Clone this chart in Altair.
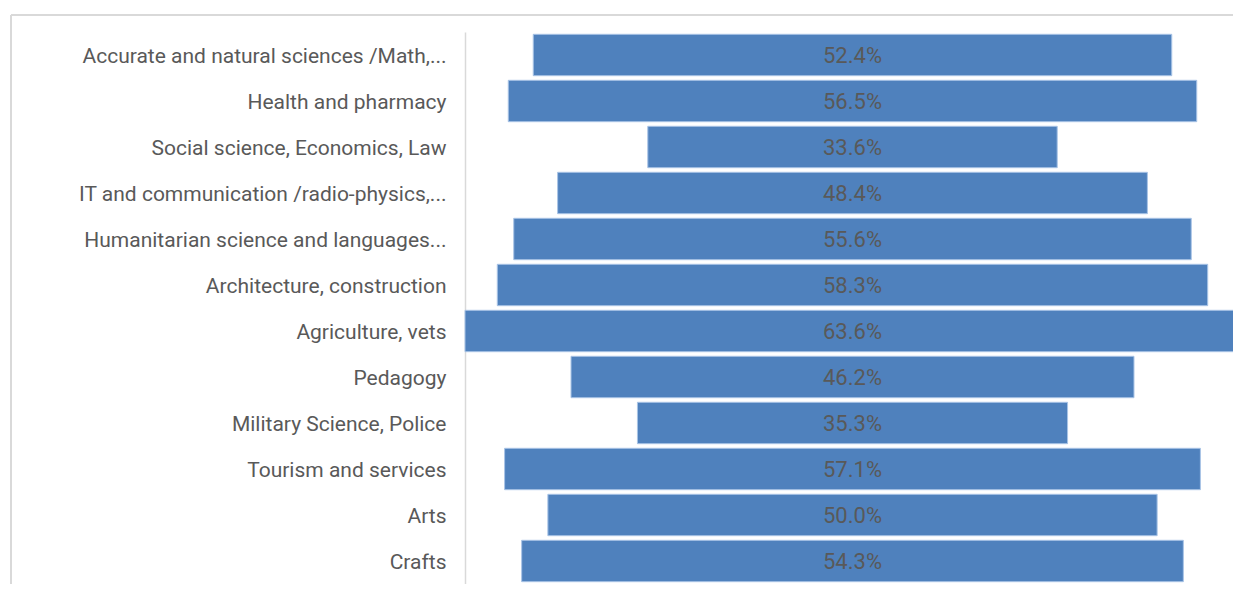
import altair as alt
import pandas as pd

categories = [
    "Accurate and natural sciences /Math,...",
    "Health and pharmacy",
    "Social science, Economics, Law",
    "IT and communication /radio-physics,...",
    "Humanitarian science and languages...",
    "Architecture, construction",
    "Agriculture, vets",
    "Pedagogy",
    "Military Science, Police",
    "Tourism and services",
    "Arts",
    "Crafts",
]
values = [52.4, 56.5, 33.6, 48.4, 55.6, 58.3, 63.6, 46.2, 35.3, 57.1, 50.0, 54.3]

df = pd.DataFrame({"category": categories, "value": values})
df["lo"] = -df["value"] / 2
df["hi"] = df["value"] / 2
df["label"] = df["value"].map(lambda v: f"{v:.1f}%")

FONT = "Roboto"
FS = 21
half = max(values) / 2
PX_PER_UNIT = 775 / max(values)
W = 768
right = half - (775 - W) / PX_PER_UNIT

label_expr = ("length(datum.label) > 34 ? "
              "datum.label + '\u2002\u2002' : datum.label")

y = alt.Y("category:N", sort=categories, title=None,
          scale=alt.Scale(paddingInner=0.1, paddingOuter=0.05),
          axis=alt.Axis(labelFont=FONT, labelFontSize=FS, labelColor="#595959",
                        labelPadding=19, labelOffset=2, ticks=False,
                        domainColor="#d9d9d9", domainWidth=1.5, labelLimit=500,
                        labelExpr=label_expr))
xs = alt.Scale(domain=[-half, right], nice=False, zero=False)
x = alt.X("lo:Q", scale=xs, axis=None)

bars = alt.Chart(df).mark_bar(color="#4F81BD", stroke="#a9c4e6", strokeWidth=1).encode(
    y=y, x=x, x2="hi:Q"
)
text = alt.Chart(df).mark_text(font=FONT, fontSize=22, color="#595959", dy=1).encode(
    y=alt.Y("category:N", sort=categories),
    x=alt.X("zero:Q", scale=xs),
    text="label:N"
).transform_calculate(zero="0")

frame_top = alt.Chart(df).mark_rule(color="#d9d9d9", strokeWidth=2).encode(
    x=alt.value(-454), x2=alt.value(W), y=alt.value(-17)
)
frame_left = alt.Chart(df).mark_rule(color="#d9d9d9", strokeWidth=2).encode(
    x=alt.value(-454), y=alt.value(-17), y2=alt.value(552)
)

chart = alt.layer(frame_top, frame_left, bars, text).properties(
    width=W, height=552,
    autosize=alt.AutoSizeParams(type="none"),
    padding={"left": 457, "top": 24, "right": 0, "bottom": 0},
).configure_view(stroke=None)

chart.save("out.html", embed_options={"renderer": "svg", "actions": False})
